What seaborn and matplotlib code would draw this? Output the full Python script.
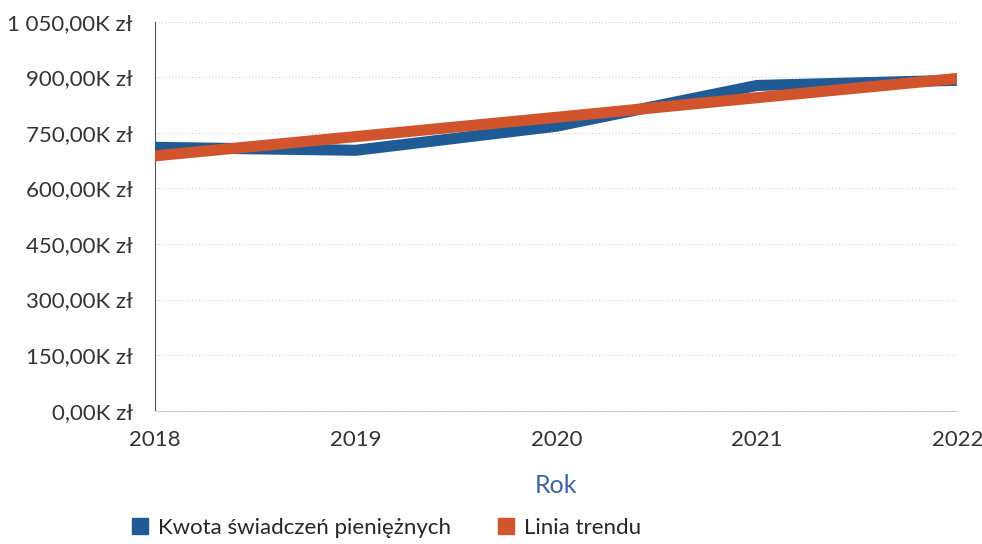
import pandas as pd
import matplotlib.pyplot as plt
import seaborn as sns
from matplotlib.lines import Line2D
from matplotlib.ticker import FuncFormatter

# --------------------------------------------------
# DATA
# --------------------------------------------------

years = [2018, 2019, 2020, 2021, 2022]

kwota = [711, 703, 768, 878, 892]      # K zł

trend = [688, 740, 792, 845, 897]      # K zł

series_names = ["Kwota świadczeń pieniężnych", "Linia trendu"]

df = pd.DataFrame({
    "Rok": years,
    "Kwota": kwota,
    "Trend": trend
})

BLUE = "#1f5b95"
ORANGE = "#d2542c"

# --------------------------------------------------
# PLOT
# --------------------------------------------------

sns.set_style("white")
plt.rcParams["font.family"] = ["Lato", "DejaVu Sans"]

fig = plt.figure(figsize=(9.82, 5.44), dpi=100)
ax = fig.add_axes([0.158, 0.245, 0.817, 0.715])

sns.lineplot(data=df, x="Rok", y="Kwota", color=BLUE, linewidth=8, ax=ax,
             zorder=3)
sns.lineplot(data=df, x="Rok", y="Trend", color=ORANGE, linewidth=8, ax=ax,
             zorder=4)

ax.set_xlim(years[0], years[-1])
ax.set_ylim(0, 1050)
ax.set_yticks(range(0, 1051, 150))
ax.set_xticks(years)

ax.yaxis.set_major_formatter(
    FuncFormatter(lambda v, p: f"{int(v):,}".replace(",", " ") + ",00K zł")
)

ax.grid(axis="y", linestyle=(0, (1, 2)), color="#cccccc", linewidth=0.8)
ax.grid(axis="x", visible=False)

for s in ["top", "right"]:
    ax.spines[s].set_visible(False)
ax.spines["left"].set_color("#555555")
ax.spines["left"].set_linewidth(0.8)
ax.spines["bottom"].set_color("#cccccc")
ax.spines["bottom"].set_linewidth(0.8)

ax.tick_params(axis="both", length=0, labelsize=16, colors="#333333")
ax.tick_params(axis="x", pad=14)
ax.tick_params(axis="y", pad=16)

ax.set_xlabel("Rok", fontsize=18, color="#3d63a8", labelpad=17)
ax.set_ylabel("")

handles = [
    Line2D([], [], marker="s", linestyle="", markersize=11,
           color=BLUE),
    Line2D([], [], marker="s", linestyle="", markersize=11,
           color=ORANGE),
]

fig.legend(
    handles,
    series_names,
    loc="center",
    bbox_to_anchor=(0.392, 0.03),
    ncol=2,
    frameon=False,
    fontsize=16,
    handletextpad=0.3,
    columnspacing=2.0,
    handlelength=1.0,
)

fig.savefig("out.png", dpi=100)
